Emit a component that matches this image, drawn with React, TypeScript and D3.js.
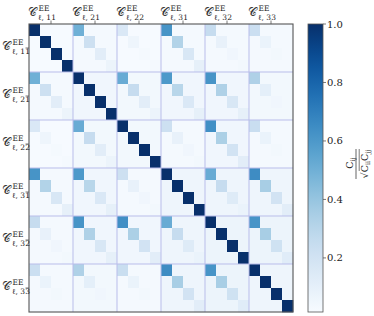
import React, { useEffect, useRef } from 'react';
import * as d3 from 'd3';

// spectra (block labels), 4 multipole bins each
const blockNames = ['11', '21', '22', '31', '32', '33'];
const binsPerBlock = 4;

// correlation of bin k in block i with bin k in block j (lower triangle, row i >= col j)
const blockDiag: number[][][] = [
  [[1, 1, 1, 1]],
  [[0.5, 0.22, 0.12, 0.07], [1, 1, 1, 1]],
  [[0.16, 0.06, 0.03, 0.03], [0.52, 0.25, 0.12, 0.07], [1, 1, 1, 1]],
  [[0.62, 0.32, 0.17, 0.1], [0.6, 0.3, 0.16, 0.1], [0.22, 0.09, 0.05, 0.04], [1, 1, 1, 1]],
  [[0.25, 0.09, 0.05, 0.04], [0.62, 0.33, 0.17, 0.1], [0.64, 0.34, 0.2, 0.12], [0.52, 0.25, 0.14, 0.08], [1, 1, 1, 1]],
  [[0.23, 0.08, 0.04, 0.03], [0.33, 0.11, 0.05, 0.04], [0.24, 0.08, 0.04, 0.03], [0.65, 0.35, 0.2, 0.12], [0.62, 0.35, 0.21, 0.13], [1, 1, 1, 1]],
];

// off-diagonal (different bin) level inside each block pair
const blockBackground: number[][] = [
  [0.02],
  [0.03, 0.05],
  [0.02, 0.04, 0.04],
  [0.03, 0.05, 0.03, 0.06],
  [0.03, 0.05, 0.05, 0.06, 0.07],
  [0.03, 0.04, 0.03, 0.06, 0.07, 0.06],
];

const colorTicks = [0.2, 0.4, 0.6, 0.8, 1.0];
const colorMin = 0.015;

const W = 374;
const H = 316;

interface Cell { r: number; c: number; v: number }

function buildCells(): Cell[] {
  const n = blockNames.length * binsPerBlock;
  const cells: Cell[] = [];
  for (let r = 0; r < n; r++) {
    for (let c = 0; c < n; c++) {
      const bi = Math.floor(r / binsPerBlock), bj = Math.floor(c / binsPerBlock);
      const ki = r % binsPerBlock, kj = c % binsPerBlock;
      const [a, b] = bi >= bj ? [bi, bj] : [bj, bi];
      const v = ki === kj ? blockDiag[a][b][ki] : blockBackground[a][b];
      cells.push({ r, c, v });
    }
  }
  return cells;
}

const App: React.FC = () => {
  const svgRef = useRef<SVGSVGElement>(null);

  useEffect(() => {
    if (!svgRef.current) return;
    const svg = d3.select(svgRef.current);
    svg.selectAll('*').remove();

    const left = 29, top = 24, right = 293, bottom = 312;
    const n = blockNames.length * binsPerBlock;
    const idx = d3.range(n);

    const x = d3.scaleBand<number>().domain(idx).range([left, right]);
    const y = d3.scaleBand<number>().domain(idx).range([top, bottom]);
    const color = d3.scaleSequential(d3.interpolateBlues).domain([colorMin, 1]);

    const cells = buildCells();
    svg.append('g')
      .selectAll('rect')
      .data(cells)
      .join('rect')
      .attr('x', d => x(d.c)!)
      .attr('y', d => y(d.r)!)
      .attr('width', x.bandwidth() + 0.3)
      .attr('height', y.bandwidth() + 0.3)
      .attr('fill', d => color(Math.max(colorMin, d.v)));

    // block separators
    const sep = svg.append('g').attr('stroke', '#b9bdea').attr('stroke-width', 1);
    for (let b = 1; b < blockNames.length; b++) {
      const xv = x(b * binsPerBlock)!;
      const yv = y(b * binsPerBlock)!;
      sep.append('line').attr('x1', xv).attr('x2', xv).attr('y1', top).attr('y2', bottom);
      sep.append('line').attr('x1', left).attr('x2', right).attr('y1', yv).attr('y2', yv);
    }

    // frame
    svg.append('rect')
      .attr('x', left).attr('y', top)
      .attr('width', right - left).attr('height', bottom - top)
      .attr('fill', 'none').attr('stroke', '#555').attr('stroke-width', 1.1);

    const blockCenterX = (b: number) => x(b * binsPerBlock)! + x.bandwidth() * binsPerBlock / 2;
    const blockCenterY = (b: number) => y(b * binsPerBlock)! + y.bandwidth() * binsPerBlock / 2;

    const font = 'DejaVu Serif, serif';
    const label = (g: d3.Selection<SVGGElement, unknown, null, undefined>, name: string) => {
      g.append('text').attr('x', 0).attr('y', 0)
        .attr('font-family', font).attr('font-size', 12).attr('fill', '#333')
        .text('𝒞');
      g.append('text').attr('x', 10.5).attr('y', -5)
        .attr('font-family', font).attr('font-size', 7.5).attr('fill', '#222')
        .text('EE');
      g.append('text').attr('x', 10).attr('y', 3.5)
        .attr('font-family', font).attr('font-size', 7.5).attr('fill', '#222')
        .text(`ℓ, ${name}`);
    };

    const axes = svg.append('g').attr('stroke', '#555').attr('stroke-width', 0.8);
    blockNames.forEach((name, b) => {
      const cx = blockCenterX(b);
      axes.append('line').attr('x1', cx).attr('x2', cx).attr('y1', top).attr('y2', top - 3.5);
      label(svg.append('g').attr('transform', `translate(${cx - 23},16)`), name);

      const cy = blockCenterY(b);
      axes.append('line').attr('x1', left).attr('x2', left - 3.5).attr('y1', cy).attr('y2', cy);
      label(svg.append('g').attr('transform', `translate(2,${cy + 2})`), name);
    });

    // colorbar
    const cbX = 308, cbW = 15;
    const cy = d3.scaleLinear().domain([colorMin, 1]).range([bottom, top]);
    const defs = svg.append('defs');
    const grad = defs.append('linearGradient').attr('id', 'cbgrad')
      .attr('x1', 0).attr('x2', 0).attr('y1', 1).attr('y2', 0);
    d3.range(0, 1.0001, 0.05).forEach(t => {
      grad.append('stop').attr('offset', t)
        .attr('stop-color', color(colorMin + t * (1 - colorMin)));
    });
    svg.append('rect')
      .attr('x', cbX).attr('y', top).attr('width', cbW).attr('height', bottom - top)
      .attr('fill', 'url(#cbgrad)');
    svg.append('rect')
      .attr('x', cbX).attr('y', top).attr('width', cbW).attr('height', bottom - top)
      .attr('fill', 'none').attr('stroke', '#555').attr('stroke-width', 0.8);

    const cbAxis = svg.append('g').attr('transform', `translate(${cbX + cbW},0)`);
    colorTicks.forEach(t => {
      cbAxis.append('line').attr('x1', 0).attr('x2', 3).attr('y1', cy(t)).attr('y2', cy(t))
        .attr('stroke', '#555').attr('stroke-width', 0.8);
      cbAxis.append('text').attr('x', 4).attr('y', cy(t)).attr('dy', '0.35em')
        .attr('font-family', font).attr('font-size', 10).attr('fill', '#222')
        .text(t.toFixed(1));
    });

    // colorbar label: C_ij / sqrt(C_ii C_jj), rotated
    const lab = svg.append('g')
      .attr('transform', `translate(356,${(top + bottom) / 2 - 4}) rotate(-90)`)
      .attr('font-family', font).attr('fill', '#222');
    const num = lab.append('text').attr('x', 1).attr('y', -3).attr('text-anchor', 'middle').attr('font-size', 9.5);
    num.append('tspan').text('C');
    num.append('tspan').attr('font-size', 6.5).attr('dy', 2).text('ij');
    lab.append('line').attr('x1', -15).attr('x2', 15).attr('y1', 0).attr('y2', 0)
      .attr('stroke', '#222').attr('stroke-width', 0.7);
    const den = lab.append('text').attr('x', 0).attr('y', 11.5).attr('text-anchor', 'middle').attr('font-size', 9.5);
    den.append('tspan').text('√');
    den.append('tspan').text('C');
    den.append('tspan').attr('font-size', 6.5).attr('dy', 2).text('ii');
    den.append('tspan').attr('dy', -2).text('C');
    den.append('tspan').attr('font-size', 6.5).attr('dy', 2).text('jj');
    lab.append('line').attr('x1', -7).attr('x2', 15).attr('y1', 3.2).attr('y2', 3.2)
      .attr('stroke', '#222').attr('stroke-width', 0.6);
  }, []);

  return (
    <div style={{ width: W, height: H }}>
      <svg ref={svgRef} width={W} height={H} style={{ position: 'absolute', left: 0, top: 0 }} />
    </div>
  );
};

export default App;
